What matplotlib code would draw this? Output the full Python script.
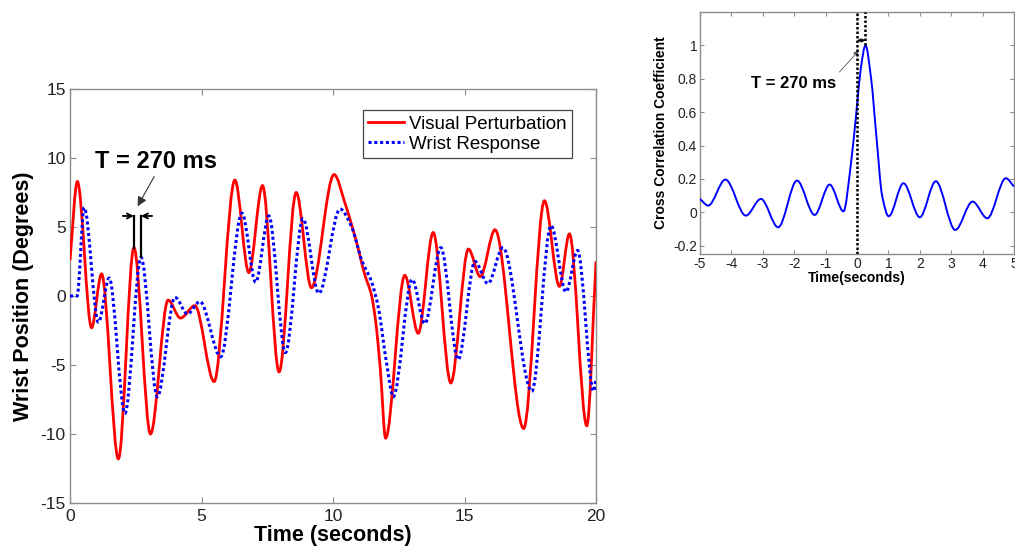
import numpy as np
import matplotlib
matplotlib.use("Agg")
import matplotlib.pyplot as plt
from matplotlib.path import Path
from matplotlib.patches import PathPatch
from matplotlib.lines import Line2D

plt.rcParams["font.family"] = ["Liberation Sans", "DejaVu Sans"]
plt.rcParams["axes.unicode_minus"] = False

# ----------------------------------------------------------
# Data (turning points of each trace)
# ----------------------------------------------------------
visual_t = [0, 0.28, 0.82, 1.2, 1.84, 2.43, 3.06, 3.73, 4.2, 4.75, 5.48, 6.27,
            6.8, 7.32, 7.95, 8.6, 9.18, 10.04, 10.46, 10.88, 11.2, 11.47, 11.62,
            11.8, 12.0, 12.73, 13.24, 13.81, 14.48, 15.15, 15.6, 16.16, 17.25,
            18.04, 18.61, 18.99, 19.65, 20]
visual_deg = [2.6, 8.3, -2.3, 1.6, -11.8, 3.5, -10.0, -0.3, -1.6, -0.7, -6.2, 8.4,
              1.7, 8.0, -5.5, 7.5, 0.6, 8.8, 6.7, 4.0, 1.6, 0.0, -1.8,
              -5.3, -10.3, 1.5, -2.7, 4.6, -6.3, 3.4, 1.4, 4.8, -9.6,
              6.9, 0.7, 4.5, -9.4, 2.5]

wrist_t = [0, 0.27, 0.54, 1.08, 1.49, 2.09, 2.7, 3.32, 3.99, 4.47, 4.94, 5.73,
           6.54, 7.06, 7.56, 8.19, 8.86, 9.46, 10.27, 10.71, 11.09, 11.47, 11.72,
           12.04, 12.29, 13.01, 13.49, 14.1, 14.76, 15.4, 15.89, 16.46, 17.56,
           18.29, 18.86, 19.3, 19.91, 20]
wrist_deg = [0, 0, 6.4, -1.9, 1.3, -8.5, 2.8, -7.3, -0.1, -1.3, -0.4, -4.4,
             6.0, 1.0, 5.8, -4.1, 5.6, 0.2, 6.3, 5.0, 2.6, 1.0, -0.8,
             -4.9, -7.3, 1.2, -2.0, 3.5, -4.6, 2.5, 0.9, 3.5, -6.9,
             5.1, 0.3, 3.3, -6.9, -6.0]

lag_s = [-5, -4.74, -4.19, -3.54, -3.06, -2.51, -1.91, -1.35, -0.87, -0.43, -0.2,
         0.0, 0.12, 0.27, 0.45, 0.62, 0.8, 1.01, 1.48, 2.0, 2.51, 3.13, 3.68,
         4.15, 4.74, 5]
xcorr = [0.08, 0.04, 0.196, -0.02, 0.08, -0.09, 0.19, -0.016, 0.166, 0.006, 0.28,
         0.64, 0.86, 1.0, 0.8, 0.45, 0.1, -0.024, 0.174, -0.03, 0.186, -0.106, 0.064,
         -0.036, 0.204, 0.154]

delay_label = "T = 270 ms"


def smooth_path(xs, ys):
    """Monotone cubic (Fritsch-Carlson) curve through the points, as Bezier path."""
    x = np.asarray(xs, float)
    y = np.asarray(ys, float)
    h = np.diff(x)
    d = np.diff(y) / h
    m = np.zeros_like(y)
    m[0], m[-1] = d[0], d[-1]
    for i in range(1, len(x) - 1):
        if d[i - 1] * d[i] > 0:
            w1 = 2 * h[i] + h[i - 1]
            w2 = h[i] + 2 * h[i - 1]
            m[i] = (w1 + w2) / (w1 / d[i - 1] + w2 / d[i])
    verts = [(x[0], y[0])]
    codes = [Path.MOVETO]
    for i in range(len(x) - 1):
        verts += [(x[i] + h[i] / 3, y[i] + m[i] * h[i] / 3),
                  (x[i + 1] - h[i] / 3, y[i + 1] - m[i + 1] * h[i] / 3),
                  (x[i + 1], y[i + 1])]
        codes += [Path.CURVE4] * 3
    return Path(verts, codes)


def matlab_box(ax, size):
    for s in ax.spines.values():
        s.set_color("#8c8c8c")
        s.set_linewidth(1.0)
    ax.tick_params(direction="in", top=True, right=True, length=4,
                   color="#8c8c8c", labelsize=size, labelcolor="#222222")


W, H = 1015, 548
fig = plt.figure(figsize=(W / 100, H / 100), dpi=100)

# ----------------------------------------------------------
# Main panel: wrist position over time
# ----------------------------------------------------------
ax = fig.add_axes([70 / W, 1 - 503 / H, 526 / W, 414 / H])
red = "#ff0000"
blue = "#0000ff"
dots = (0, (1.0, 0.9))

ax.add_patch(PathPatch(smooth_path(visual_t, visual_deg), facecolor="none",
                       edgecolor=red, lw=2.0, zorder=3))
ax.add_patch(PathPatch(smooth_path(wrist_t, wrist_deg), facecolor="none",
                       edgecolor=blue, lw=2.2, linestyle=dots, zorder=3))

ax.set_xlim(0, 20)
ax.set_ylim(-15, 15)
ax.set_xticks([0, 5, 10, 15, 20])
ax.set_yticks([-15, -10, -5, 0, 5, 10, 15])
matlab_box(ax, 12.5)
ax.tick_params(axis="y", pad=3)
ax.tick_params(axis="x", pad=4)

ax.set_xlabel("Time (seconds)", fontsize=15.5, fontweight="bold", labelpad=1)
ax.set_ylabel("Wrist Position (Degrees)", fontsize=15.5, fontweight="bold", labelpad=5)

# delay marker between the two peaks
i_r, i_b = 5, 6
bar_top = 5.8
ax.plot([visual_t[i_r]] * 2, [visual_deg[i_r], bar_top], color="black", lw=1.6, zorder=4)
ax.plot([wrist_t[i_b]] * 2, [wrist_deg[i_b], bar_top], color="black", lw=1.6, zorder=4)
for xx, off in [(visual_t[i_r], -8), (wrist_t[i_b], 8)]:
    ax.annotate("", xy=(xx, bar_top), xytext=(off, 0), textcoords="offset points",
                arrowprops=dict(arrowstyle="->", color="black", lw=1.3,
                                mutation_scale=9, shrinkA=0, shrinkB=0), zorder=5)

ax.text(0.95, 9.75, delay_label, fontsize=17, fontweight="bold", va="center", ha="left")
ax.annotate("", xy=(2.57, 6.5), xytext=(3.2, 8.65),
            arrowprops=dict(arrowstyle="-|>", color="#333333", lw=0.8,
                            mutation_scale=14, shrinkA=0, shrinkB=0))

handles = [Line2D([], [], color=red, lw=2.0),
           Line2D([], [], color=blue, lw=2.2, linestyle=dots)]
leg = ax.legend(handles, ["Visual Perturbation", "Wrist Response"],
                loc="upper right", bbox_to_anchor=(0.954, 0.949), borderaxespad=0,
                fontsize=13.5, fancybox=False, framealpha=1, handlelength=1.9,
                handletextpad=0.25, borderpad=0.3, labelspacing=0.15)
leg.get_frame().set_edgecolor("#444444")
leg.get_frame().set_linewidth(0.9)

# ----------------------------------------------------------
# Inset panel: cross correlation
# ----------------------------------------------------------
ax2 = fig.add_axes([700 / W, 1 - 254 / H, 314 / W, 242 / H])
ax2.add_patch(PathPatch(smooth_path(lag_s, xcorr), facecolor="none",
                        edgecolor=blue, lw=1.4, zorder=3))
ax2.set_xlim(-5, 5)
ax2.set_ylim(-0.25, 1.2)
ax2.set_xticks(range(-5, 6))
ax2.set_yticks([-0.2, 0, 0.2, 0.4, 0.6, 0.8, 1])
ax2.set_yticklabels(["-0.2", "0", "0.2", "0.4", "0.6", "0.8", "1"])
matlab_box(ax2, 10)
ax2.tick_params(length=3, pad=2)
ax2.set_xlabel("Time(seconds)", fontsize=10, fontweight="bold", labelpad=0)
ax2.set_ylabel("Cross Correlation Coefficient", fontsize=10, fontweight="bold", labelpad=4)

i_pk = int(np.argmax(xcorr))
ax2.axvline(0, color="black", lw=1.8, linestyle=(0, (1, 0.8)), zorder=4)
ax2.plot([lag_s[i_pk]] * 2, [xcorr[i_pk], 1.2], color="black", lw=1.8,
         linestyle=(0, (1, 0.8)), zorder=4)
ax2.annotate("", xy=(lag_s[i_pk], 1.03), xytext=(0, 1.03),
             arrowprops=dict(arrowstyle="<->", color="black", lw=0.8,
                             mutation_scale=5, shrinkA=0, shrinkB=0), zorder=5)
ax2.text(-3.36, 0.77, delay_label, fontsize=12, fontweight="bold", va="center", ha="left")
ax2.annotate("", xy=(0.06, 0.97), xytext=(-0.56, 0.84),
             arrowprops=dict(arrowstyle="-|>", color="#555555", lw=0.6,
                             mutation_scale=8, shrinkA=0, shrinkB=0))

fig.savefig("out.png", dpi=100, facecolor="white")
